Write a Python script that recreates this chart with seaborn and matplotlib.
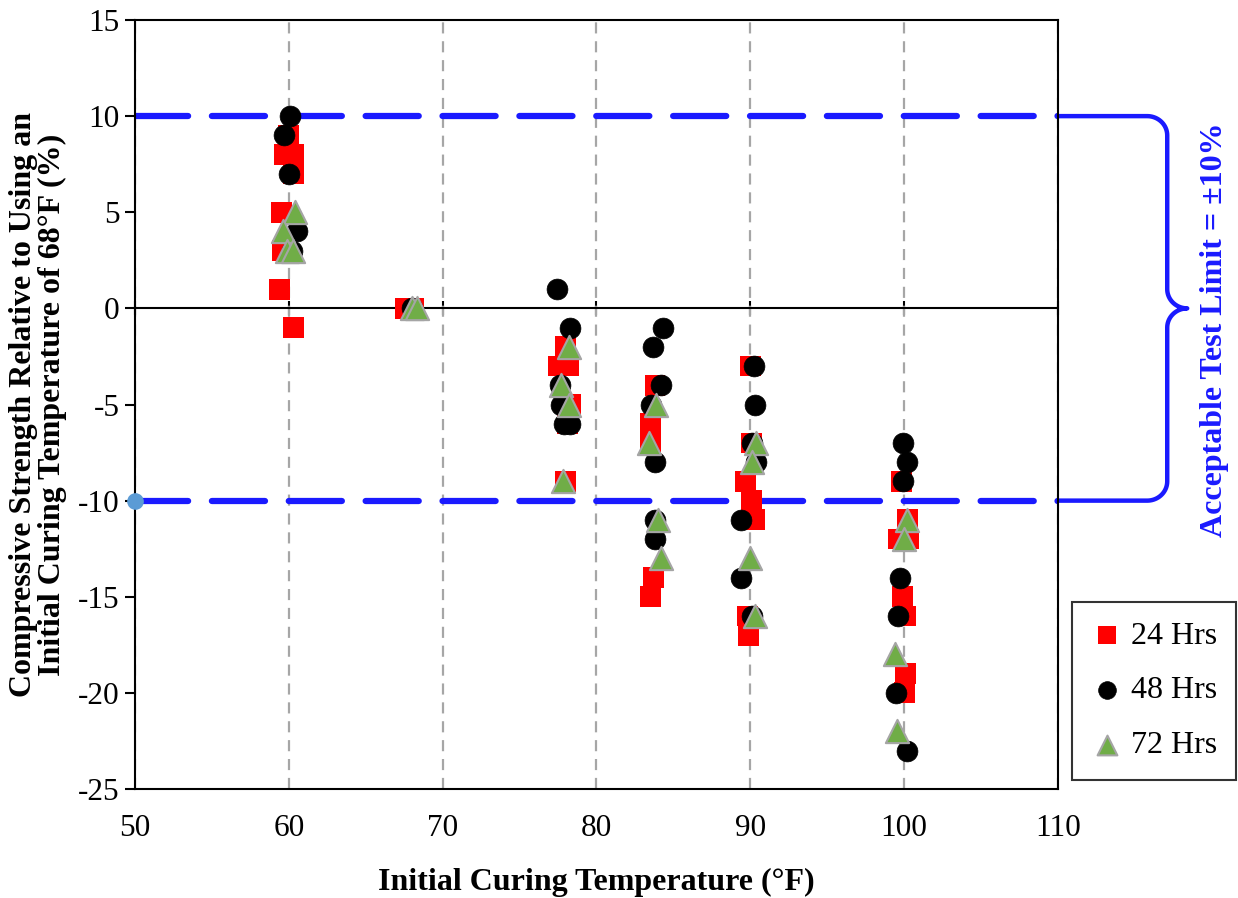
import numpy as np
import pandas as pd
import matplotlib.pyplot as plt
import seaborn as sns

# 24 Hrs (red squares)
temp_24 = [60.0, 59.7, 60.3, 60.3, 59.5, 59.6, 59.4, 60.3,
           67.6, 68.1,
           78.0, 77.5, 78.2, 78.3, 78.1, 78.0,
           83.8, 83.5, 83.5, 83.7, 83.5,
           90.0, 90.1, 89.7, 90.1, 90.3, 89.8, 89.9,
           99.8, 100.2, 99.6, 100.3, 99.9, 100.1, 100.1, 100.0]
str_24 = [9, 8, 8, 7, 5, 3, 1, -1,
          0, 0,
          -2, -3, -3, -5, -6, -9,
          -4, -6, -7, -14, -15,
          -3, -7, -9, -10, -11, -16, -17,
          -9, -11, -12, -12, -15, -16, -19, -20]

# 48 Hrs (black circles)
temp_48 = [60.1, 59.7, 60.0, 60.5, 60.2,
           68.0,
           77.4, 78.3, 77.6, 77.7, 77.9, 78.3,
           84.35, 83.65, 84.2, 83.55, 83.8, 83.8, 83.8,
           90.25, 90.3, 90.1, 90.4, 89.4, 89.4, 90.1,
           99.9, 100.2, 99.9, 99.75, 99.6, 99.5, 100.2]
str_48 = [10, 9, 7, 4, 3,
          0,
          1, -1, -4, -5, -6, -6,
          -1, -2, -4, -5, -8, -11, -12,
          -3, -5, -7, -8, -11, -14, -16,
          -7, -8, -9, -14, -16, -20, -23]

# 72 Hrs (green triangles)
temp_72 = [60.4, 59.6, 59.9, 60.3,
           68.0, 68.3,
           78.2, 77.7, 78.2, 77.8,
           83.9, 83.4, 84.0, 84.2,
           90.4, 90.1, 90.0, 90.3,
           100.2, 100.0, 99.4, 99.55]
str_72 = [5, 4, 3, 3,
          0, 0,
          -2, -4, -5, -9,
          -5, -7, -11, -13,
          -7, -8, -13, -16,
          -11, -12, -18, -22]

limit_x = [50, 110]
limit_hi = [10, 10]
limit_lo = [-10, -10]

x_ticks = [50, 60, 70, 80, 90, 100, 110]
y_ticks = [-25, -20, -15, -10, -5, 0, 5, 10, 15]

sns.set_style("white")
plt.rcParams['font.family'] = ['Liberation Serif', 'DejaVu Serif']
plt.rcParams['axes.unicode_minus'] = False
plt.rcParams['text.color'] = 'black'
plt.rcParams['axes.labelcolor'] = 'black'
plt.rcParams['xtick.color'] = 'black'
plt.rcParams['ytick.color'] = 'black'

fig = plt.figure(figsize=(12.38, 8.98), dpi=100)
ax = fig.add_axes([135 / 1238, 1 - 789 / 898, 923 / 1238, 769 / 898])

blue = '#1a1aff'
fs = 23

# limit lines
ax.plot(limit_x, limit_hi, color=blue, lw=4.5, dashes=(8.5, 3.8),
        dash_capstyle='round', label='_nolegend_', zorder=2)
ax.plot(limit_x, limit_lo, color=blue, lw=4.5, dashes=(8.5, 3.8),
        dash_capstyle='round', label='_nolegend_', zorder=2)
ax.plot(limit_x[:1], limit_lo[:1], 'o', color='#5B9BD5', ms=11,
        clip_on=False, label='_nolegend_', zorder=5)

ax.axhline(0, color='black', lw=1.5, zorder=2)

df24 = pd.DataFrame({'temp': temp_24, 'strength': str_24})
df48 = pd.DataFrame({'temp': temp_48, 'strength': str_48})
df72 = pd.DataFrame({'temp': temp_72, 'strength': str_72})

sns.scatterplot(data=df24, x='temp', y='strength', ax=ax, marker='s', s=225,
                color='#FF0000', edgecolor='none', linewidth=0, label='24 Hrs', zorder=3)
sns.scatterplot(data=df48, x='temp', y='strength', ax=ax, marker='o', s=225,
                color='black', edgecolor='black', linewidth=0.5, label='48 Hrs', zorder=4)
sns.scatterplot(data=df72, x='temp', y='strength', ax=ax, marker='^', s=280,
                color='#70AD47', edgecolor='#A5A5A5', linewidth=1.5, label='72 Hrs', zorder=5)

ax.set_xlim(50, 110)
ax.set_ylim(-25, 15)
ax.set_xticks(x_ticks)
ax.set_yticks(y_ticks)
ax.grid(axis='x', color='#A6A6A6', linestyle=(0, (5, 3.5)), lw=1.6, zorder=1)
ax.grid(axis='y', visible=False)
for sp in ax.spines.values():
    sp.set_color('black')
    sp.set_linewidth(1.5)
ax.tick_params(axis='y', direction='out', length=7, width=1.5, labelsize=fs - 0.5,
               left=True, pad=4)
ax.tick_params(axis='x', length=0, labelsize=fs - 0.5, pad=18)

# tick marks crossing the zero line
sec = ax.secondary_xaxis(25 / 40)
sec.set_xticks(x_ticks)
sec.tick_params(direction='inout', length=10, width=1.5, labelbottom=False, labeltop=False)
sec.spines['bottom'].set_visible(False)
sec.spines['top'].set_visible(False)

ax.set_xlabel('Initial Curing Temperature (°F)', fontsize=fs, fontweight='bold', labelpad=18)
ax.set_ylabel('Compressive Strength Relative to Using an\nInitial Curing Temperature of 68°F (%)',
              fontsize=fs, fontweight='bold', labelpad=8, linespacing=1.0)

# curly bracket on the right
xr, yr = 1.3, 1.0
t = np.linspace(0, np.pi / 2, 20)
bx = [110, 115.8]
by = [10, 10]
bx += list(115.8 + xr * np.sin(t)); by += list(9 + yr * np.cos(t))
bx += list(118.4 - xr * np.cos(t)); by += list(1 - yr * np.sin(t))
bx += list(118.4 - xr * np.sin(t)); by += list(-1 + yr * np.cos(t))
bx += list(115.8 + xr * np.cos(t)); by += list(-9 - yr * np.sin(t))
bx += [110]; by += [-10]
ax.plot(bx, by, color=blue, lw=3.2, clip_on=False, solid_joinstyle='round',
        label='_nolegend_', zorder=2)
ax.text(120.2, -1.1, 'Acceptable Test Limit = ±10%', rotation=90, ha='center', va='center',
        color=blue, fontsize=fs, fontweight='bold', clip_on=False)

leg = ax.legend(loc='upper left', bbox_to_anchor=(1072 / 1238, 1 - 602 / 898),
                bbox_transform=fig.transFigure, fontsize=fs, frameon=True, fancybox=False,
                edgecolor='black', markerscale=0.85, handlelength=1.0, handletextpad=0.25,
                labelspacing=0.8, borderpad=0.6, borderaxespad=0)
leg.get_frame().set_linewidth(1.5)

fig.savefig('out.png', dpi=100)
